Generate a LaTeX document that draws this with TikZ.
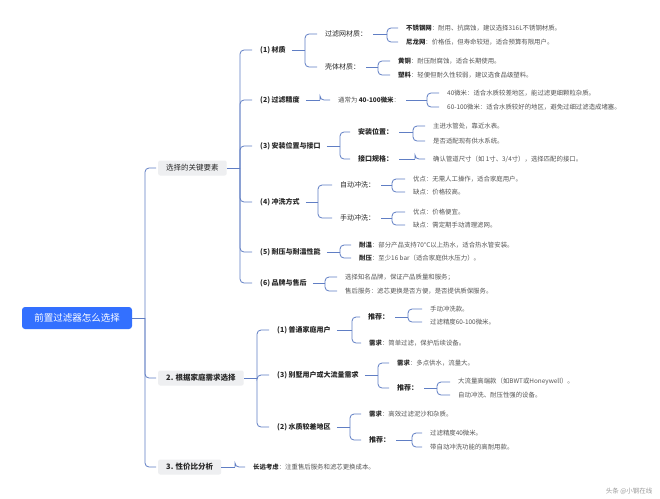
\documentclass[tikz,border=0pt]{standalone}
\usepackage{fontspec}
\setmainfont{Noto Sans CJK SC}
\definecolor{linkc}{RGB}{96,126,196}
\definecolor{rootc}{RGB}{51,112,255}
\definecolor{boxc}{RGB}{238,239,241}
\definecolor{darkc}{RGB}{40,40,40}
\definecolor{leafc}{RGB}{85,85,85}
\tikzset{
 link/.style={draw=linkc, line width=0.8pt},
 t/.style={anchor=west, inner xsep=6pt, inner ysep=1.5pt, xshift=-6pt, text=darkc, font=\fontsize{7}{8}\selectfont},
 t2/.style={t, font=\fontsize{7}{8}\selectfont\bfseries},
 lf/.style={t, text=leafc, font=\fontsize{6.4}{8}\selectfont},
 rootbox/.style={fill=rootc, rounded corners=3pt, text=white, minimum width=110pt, minimum height=22pt, inner sep=0pt, font=\fontsize{9.5}{11}\selectfont},
 l1/.style={anchor=west, fill=boxc, rounded corners=2pt, inner xsep=8pt, inner ysep=0pt, minimum height=15pt, text=darkc, font=\fontsize{7.5}{9}\selectfont},
}
\newcommand\fork[3]{%
 \coordinate (fk) at (#2,0);
 \draw[link] (#1.east) -- (#1.east -| fk);
 \foreach \ch in {#3}{\draw[link,rounded corners=4pt] (#1.east -| fk) |- ([xshift=-2pt]\ch.west);}
}
\newcommand\bl[1]{\textbf{\color{darkc}#1}}
\begin{document}
\begin{tikzpicture}[x=1pt,y=-1pt]
\fill[white] (0,0) rectangle (660,498);
\useasboundingbox (0,0) rectangle (660,498);
% root
\node[rootbox] (root) at (77,318) {前置过滤器怎么选择};
% level 1
\node[l1] (k) at (158,168) {选择的关键要素};
\node[l1, font=\fontsize{7.5}{9}\selectfont\bfseries] (n2) at (158,378) {2. 根据家庭需求选择};
\node[l1, font=\fontsize{7.5}{9}\selectfont\bfseries] (n3) at (158,467) {3. 性价比分析};
% level 2 (key factors)
\node[t2] (m1) at (260,50) {(1) 材质};
\node[t2] (m2) at (260,100) {(2) 过滤精度};
\node[t2] (m3) at (260,146) {(3) 安装位置与接口};
\node[t2] (m4) at (260,202) {(4) 冲洗方式};
\node[t2] (m5) at (260,252) {(5) 耐压与耐温性能};
\node[t2] (m6) at (260,283) {(6) 品牌与售后};
% material
\node[t] (a1) at (325,34) {过滤网材质：};
\node[t] (a2) at (325,67) {壳体材质：};
\node[lf] (a11) at (406,28) {\bl{不锈钢网}：耐用、抗腐蚀，建议选择316L不锈钢材质。};
\node[lf] (a12) at (406,42) {\bl{尼龙网}：价格低，但寿命较短，适合预算有限用户。};
\node[lf] (a21) at (398,61) {\bl{黄铜}：耐压耐腐蚀，适合长期使用。};
\node[lf] (a22) at (398,75) {\bl{塑料}：轻便但耐久性较弱，建议选食品级塑料。};
% precision
\node[lf, text=leafc] (b) at (338,100) {通常为 \bl{40-100微米}：};
\node[lf] (b1) at (447,93) {40微米：适合水质较差地区，能过滤更细颗粒杂质。};
\node[lf] (b2) at (447,107) {60-100微米：适合水质较好的地区，避免过细过滤造成堵塞。};
% installation
\node[t2] (c1) at (358,132) {安装位置：};
\node[t2] (c2) at (358,159) {接口规格：};
\node[lf] (c11) at (433,126) {主进水管处，靠近水表。};
\node[lf] (c12) at (433,141) {是否适配现有供水系统。};
\node[lf] (c21) at (433,159) {确认管道尺寸（如 1寸、3/4寸），选择匹配的接口。};
% flushing
\node[t] (d1) at (340,185) {自动冲洗：};
\node[t] (d2) at (340,218) {手动冲洗：};
\node[lf] (d11) at (413,179) {优点：无需人工操作，适合家庭用户。};
\node[lf] (d12) at (413,192) {缺点：价格较高。};
\node[lf] (d21) at (413,212) {优点：价格便宜。};
\node[lf] (d22) at (413,225) {缺点：需定期手动清理滤网。};
% pressure
\node[lf] (e1) at (359,245) {\bl{耐温}：部分产品支持70°C以上热水，适合热水管安装。};
\node[lf] (e2) at (359,258) {\bl{耐压}：至少16 bar（适合家庭供水压力）。};
% brand
\node[lf] (f1) at (345,277) {选择知名品牌，保证产品质量和服务；};
\node[lf] (f2) at (345,291) {售后服务：滤芯更换是否方便，是否提供质保服务。};
% by household
\node[t2] (p1) at (277,330) {(1) 普通家庭用户};
\node[t2] (p3) at (277,375) {(3) 别墅用户或大流量需求};
\node[t2] (p2) at (277,427) {(2) 水质较差地区};
\node[t2] (q1) at (368,317) {推荐：};
\node[lf] (q2) at (369,343) {\bl{需求}：简单过滤，保护后续设备。};
\node[lf] (q11) at (430,309) {手动冲洗款。};
\node[lf] (q12) at (430,322) {过滤精度60-100微米。};
\node[lf] (r1) at (397,363) {\bl{需求}：多点供水，流量大。};
\node[t2] (r2) at (397,388) {推荐：};
\node[lf] (r21) at (458,382) {大流量高端款（如BWT或Honeywell）。};
\node[lf] (r22) at (458,395) {自动冲洗、耐压性强的设备。};
\node[lf] (s1) at (369,414) {\bl{需求}：高效过滤泥沙和杂质。};
\node[t2] (s2) at (369,440) {推荐：};
\node[lf] (s21) at (430,433) {过滤精度40微米。};
\node[lf] (s22) at (430,447) {带自动冲洗功能的高耐用款。};
% cost
\node[lf] (t1) at (253,467) {\bl{长远考虑}：注重售后服务和滤芯更换成本。};
% watermark
\node[anchor=east, text=black!40, font=\fontsize{6.5}{8}\selectfont] (wm) at (656,491) {头条 @小钢在线};
% connectors
\fork{root}{145}{k,n2,n3}
\fork{k}{240}{m1,m2,m3,m4,m5,m6}
\fork{m1}{305}{a1,a2}
\fork{a1}{387}{a11,a12}
\fork{a2}{378}{a21,a22}
\fork{m2}{320}{b}
\fork{b}{427}{b1,b2}
\fork{m3}{340}{c1,c2}
\fork{c1}{413}{c11,c12}
\fork{c2}{415}{c21}
\fork{m4}{318}{d1,d2}
\fork{d1}{392}{d11,d12}
\fork{d2}{392}{d21,d22}
\fork{m5}{340}{e1,e2}
\fork{m6}{325}{f1,f2}
\fork{n2}{257}{p1,p3,p2}
\fork{p1}{352}{q1,q2}
\fork{q1}{408}{q11,q12}
\fork{p3}{378}{r1,r2}
\fork{r2}{437}{r21,r22}
\fork{p2}{350}{s1,s2}
\fork{s2}{412}{s21,s22}
\fork{n3}{235}{t1}
\end{tikzpicture}
\end{document}
